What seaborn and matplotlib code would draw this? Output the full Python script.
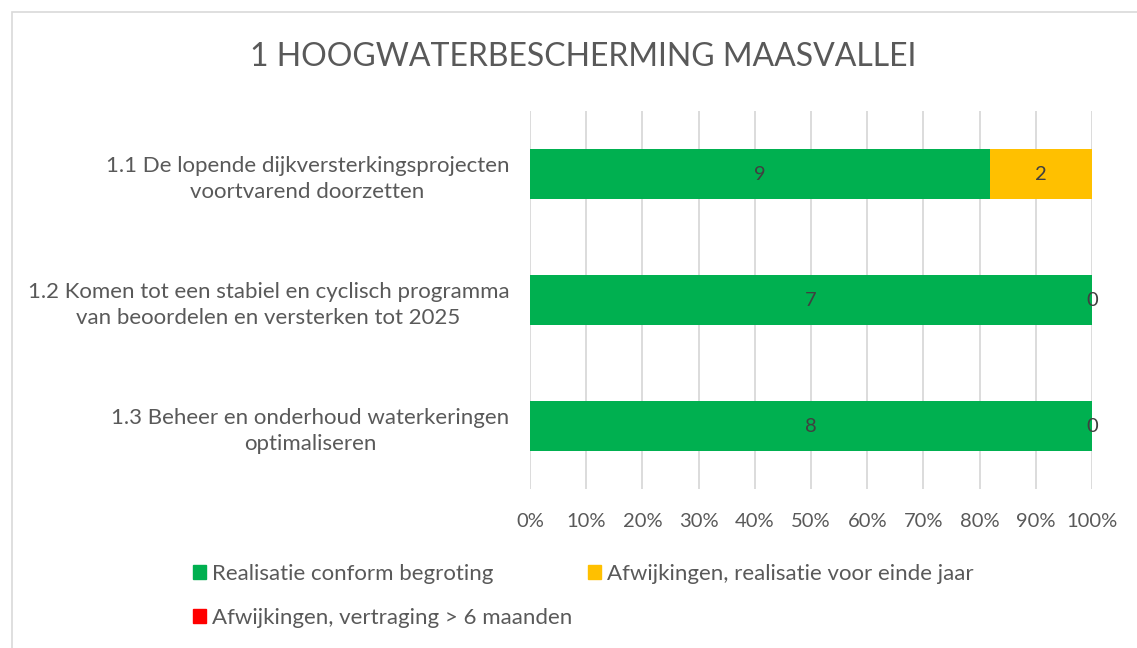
import pandas as pd
import numpy as np
import matplotlib.pyplot as plt
import matplotlib.patches as mpatches
import seaborn as sns

# chart data
categories = ["1.1 De lopende dijkversterkingsprojecten\nvoortvarend doorzetten",
              "1.2 Komen tot een stabiel en cyclisch programma\nvan beoordelen en versterken tot 2025",
              "1.3 Beheer en onderhoud waterkeringen\noptimaliseren"]
series_names = ["Realisatie conform begroting",
                "Afwijkingen, realisatie voor einde jaar",
                "Afwijkingen, vertraging > 6 maanden"]
green_vals = [9, 7, 8]
yellow_vals = [2, 0, 0]
red_vals = [0, 0, 0]
colors = ["#00b050", "#ffc000", "#ff0000"]
x_ticks = [0, 10, 20, 30, 40, 50, 60, 70, 80, 90, 100]

sns.set_style("white")
plt.rcParams['font.family'] = ['Lato', 'DejaVu Sans']

df = pd.DataFrame({'cat': categories, 'green': green_vals, 'yellow': yellow_vals, 'red': red_vals})
tot = df[['green', 'yellow', 'red']].sum(axis=1)
df['c1'] = 100 * df['green'] / tot
df['c2'] = 100 * (df['green'] + df['yellow']) / tot
df['c3'] = 100 * (df['green'] + df['yellow'] + df['red']) / tot

fig = plt.figure(figsize=(11.37, 6.48), dpi=100)
ax = fig.add_axes([530 / 1137, 1 - 489 / 648, 562 / 1137, 378 / 648])

# stacked bars by overlaying cumulative sums
for col, c in zip(['c3', 'c2', 'c1'], colors[::-1]):
    sns.barplot(data=df, x=col, y='cat', color=c, width=0.4, orient='h',
                saturation=1, linewidth=0, ax=ax, zorder=2)

# value labels (red has no labels in the source)
for i, row in df.iterrows():
    ax.text(row['c1'] / 2, i, str(row['green']), ha='center', va='center',
            fontsize=14.5, color='#404040', zorder=3)
    ax.text((row['c1'] + row['c2']) / 2, i, str(row['yellow']), ha='center', va='center',
            fontsize=14.5, color='#404040', zorder=3)

ax.set_xlim(0, 100)
ax.set_ylim(2.5, -0.5)
ax.set_xticks(x_ticks)
ax.set_xticklabels([f"{t}%" for t in x_ticks])
ax.grid(axis='x', color='#d9d9d9', linewidth=1.3, zorder=0)
ax.set_axisbelow(True)
for s in ax.spines.values():
    s.set_visible(False)
ax.set_xlabel('')
ax.set_ylabel('')
ax.tick_params(axis='x', length=0, pad=17, labelsize=14.5, labelcolor='#595959')
ax.tick_params(axis='y', length=0, pad=15, labelsize=16, labelcolor='#595959')
for lab in ax.get_yticklabels():
    lab.set_multialignment('center')
    lab.set_linespacing(1.4)

fig.text(583 / 1137, 1 - 57 / 648, "1 HOOGWATERBESCHERMING MAASVALLEI",
         ha='center', va='center', fontsize=23, color='#595959')

# legend, filled column-wise: green, red | yellow
order = [0, 2, 1]
handles = [mpatches.Patch(color=colors[k]) for k in order]
fig.legend(handles, [series_names[k] for k in order], ncol=2, loc='upper left',
           bbox_to_anchor=(173 / 1137, 1 - 544 / 648), frameon=False,
           fontsize=16, labelcolor='#595959', handlelength=0.6, handleheight=0.6,
           handletextpad=0.25, columnspacing=0.7, labelspacing=1.08)

# chart border
fig.patches.append(mpatches.Rectangle((12 / 1137, -0.1), 1.2, 1 - 12 / 648 + 0.1,
                                      transform=fig.transFigure, fill=False,
                                      edgecolor='#d9d9d9', linewidth=1.2))

plt.savefig("out.png", dpi=100)
